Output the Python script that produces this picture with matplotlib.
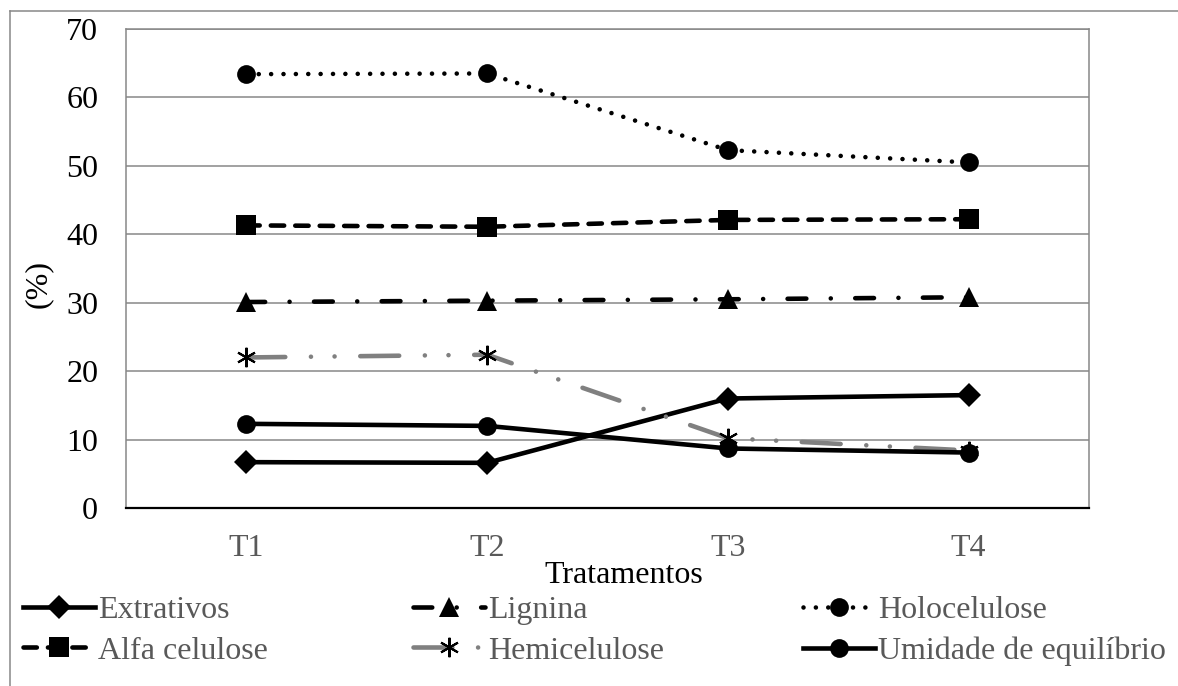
import numpy as np
import matplotlib
matplotlib.use("Agg")
import matplotlib.pyplot as plt
from matplotlib.lines import Line2D

plt.rcParams['font.family'] = ['Liberation Serif', 'DejaVu Serif']
plt.rcParams['lines.scale_dashes'] = False

# composição química por tratamento (%)
tratamentos = ['T1', 'T2', 'T3', 'T4']
extrativos = [6.7, 6.6, 16.0, 16.5]
lignina = [30.1, 30.3, 30.5, 30.8]
holocelulose = [63.4, 63.5, 52.3, 50.5]
alfa_celulose = [41.3, 41.1, 42.1, 42.2]
hemicelulose = [22.0, 22.4, 10.2, 8.4]
umidade = [12.3, 12.0, 8.7, 8.1]

W, H = 1178, 686
fig = plt.figure(figsize=(W / 100, H / 100), dpi=100)
ax = fig.add_axes([126 / W, 1 - 508 / H, (1089 - 126) / W, (508 - 29) / H])

x = np.arange(len(tratamentos))
lw = 3.3
grey_txt = '#595959'

l_ext, = ax.plot(x, extrativos, color='black', lw=lw, marker='D', ms=12,
                 mew=0, label='Extrativos', zorder=3)
l_lig, = ax.plot(x, lignina, color='black', lw=lw, marker='^', ms=14,
                 mew=0, dashes=(13.5, 17.6, 0.01, 17.6), dash_capstyle='round',
                 label='Lignina', zorder=3)
l_hol, = ax.plot(x, holocelulose, color='black', lw=lw, marker='o', ms=13.5,
                 mew=0, dashes=(0.01, 8.9), dash_capstyle='round',
                 label='Holocelulose', zorder=3)
l_alf, = ax.plot(x, alfa_celulose, color='black', lw=lw, marker='s', ms=14,
                 mew=0, dashes=(9.6, 8.0), dash_capstyle='round',
                 label='Alfa celulose', zorder=3)
l_hem, = ax.plot(x, hemicelulose, color='#808080', lw=lw, marker=(6, 2, 0),
                 ms=14, mew=1.5, mec='black',
                 dashes=(28, 18.5, 0.01, 17, 0.01, 18.5), dash_capstyle='round',
                 label='Hemicelulose', zorder=3)
l_umi, = ax.plot(x, umidade, color='black', lw=lw, marker='o', ms=13.5,
                 mew=0, label='Umidade de equilíbrio', zorder=3)

ax.set_xlim(-0.5, len(tratamentos) - 0.5)
ax.set_ylim(0, 70)
ax.set_yticks(np.arange(0, 71, 10))
ax.set_xticks(x)
ax.set_xticklabels(tratamentos)
ax.tick_params(axis='y', length=0, pad=20, labelsize=23, labelcolor='black')
ax.tick_params(axis='x', length=0, pad=19, labelsize=23, labelcolor=grey_txt)

ax.grid(axis='y', color='#878787', lw=1.1, zorder=0)
for side in ['left', 'top', 'right']:
    ax.spines[side].set_color('#878787')
    ax.spines[side].set_linewidth(1.1)
ax.spines['bottom'].set_color('black')
ax.spines['bottom'].set_linewidth(1.6)
ax.spines['bottom'].set_zorder(4)

fig.text(38 / W, 1 - 284 / H, '(%)', rotation=90, fontsize=23,
         ha='center', va='center')
fig.text(624 / W, 1 - 583 / H, 'Tratamentos', fontsize=23,
         ha='center', va='baseline')

# legenda em três colunas
cols = [([l_ext, l_alf], 23), ([l_lig, l_hem], 413), ([l_hol, l_umi], 803)]
for handles, x0 in cols:
    fig.legend(handles, [h.get_label() for h in handles], loc='upper left',
               bbox_to_anchor=(x0 / W, 1 - 596 / H), frameon=False,
               fontsize=23, labelcolor=grey_txt, handlelength=2.26,
               handletextpad=0.08, labelspacing=0.34, borderpad=0,
               borderaxespad=0)

# moldura externa do gráfico
fig.add_artist(Line2D([10 / W, 10 / W], [1 - 11 / H, -0.1], color='#878787',
                      lw=1.1, transform=fig.transFigure))
fig.add_artist(Line2D([10 / W, 1.1], [1 - 11 / H, 1 - 11 / H], color='#878787',
                      lw=1.1, transform=fig.transFigure))

fig.savefig('out.png', dpi=100)
